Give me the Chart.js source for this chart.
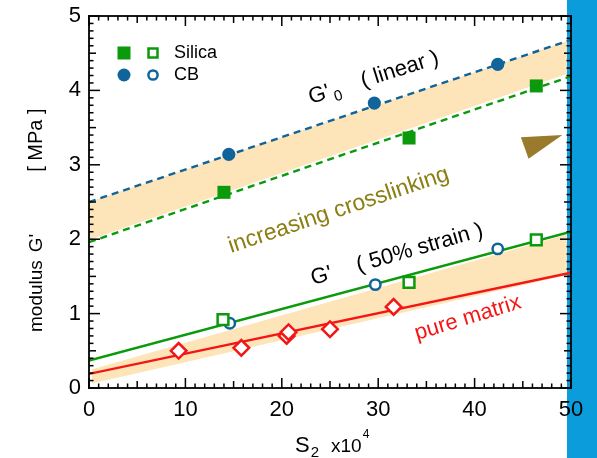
<!DOCTYPE html>
<html>
<head>
<meta charset="utf-8">
<script src="https://cdn.jsdelivr.net/npm/chart.js@4.4.0/dist/chart.umd.min.js"></script>
<style>
  html, body { margin: 0; padding: 0; background: #fff; }
  #wrap { width: 597px; height: 458px; }
</style>
</head>
<body>
<div id="wrap"><canvas id="c" width="597" height="458"></canvas></div>
<script>
// Modulus (MPa) against S2 (x10^4)
const silicaLinearX = [14.0, 33.2, 46.4];
const silicaLinearY = [2.63, 3.36, 4.06];
const cbLinearX = [14.5, 29.6, 42.4];
const cbLinearY = [3.14, 3.83, 4.35];
const silicaStrainX = [13.9, 33.2, 46.4];
const silicaStrainY = [0.92, 1.42, 1.99];
const cbStrainX = [14.6, 29.7, 42.4];
const cbStrainY = [0.87, 1.39, 1.87];
const matrixX = [9.3, 15.8, 20.5, 20.7, 25.0, 31.6];
const matrixY = [0.50, 0.54, 0.70, 0.75, 0.79, 1.09];

// straight fits, given at S2 = 0 and S2 = 50
const fitX = [0, 50];
const cbLinearFit = [2.50, 4.68];
const silicaLinearFit = [1.96, 4.19];
const strainFit = [0.37, 2.10];
const matrixFit = [0.19, 1.55];

// shaded ranges
const upperBandX = [0, 50];
const upperBandTop = [2.50, 4.68];
const upperBandBottom = [1.99, 4.24];
const lowerBandX = [0.3, 50];
const lowerBandTop = [0.25, 2.08];
const lowerBandBottom = [0.06, 1.53];

const xTickValues = [0, 10, 20, 30, 40, 50];
const yTickValues = [0, 1, 2, 3, 4, 5];

const FONT = '"Liberation Sans", Arial, Helvetica, sans-serif';
const GREEN = '#0b9a0b';
const BLUE = '#10649a';
const RED = '#f41515';
const BEIGE = '#fde5b9';
const OLIVE = '#8b7e13';
const BAR = '#0a9cdb';
const ARROW = '#9a7a2c';

const pts = (xs, ys) => xs.map((x, i) => ({ x, y: ys[i] }));

function bandPair(xs, top, bottom) {
  return [
    { data: pts(xs, top), borderWidth: 0, pointRadius: 0, fill: '+1',
      backgroundColor: BEIGE, borderColor: 'transparent', order: 10 },
    { data: pts(xs, bottom), borderWidth: 0, pointRadius: 0, fill: false,
      borderColor: 'transparent', order: 11 }
  ];
}

function fitLine(ys, color, dashed) {
  return { data: pts(fitX, ys), borderColor: color, borderWidth: 2.4,
    borderDash: dashed ? [7, 5] : [], pointRadius: 0, fill: false, order: 5 };
}

function markers(xs, ys, style, radius, color, open) {
  return { data: pts(xs, ys), showLine: false, pointStyle: style, pointRadius: radius,
    pointBackgroundColor: open ? '#fff' : color, pointBorderColor: color,
    pointBorderWidth: open ? 2.5 : 0, borderColor: color, order: 0 };
}

// draws a run of text pieces along a rotated baseline
function drawRun(ctx, x0, y0, angle, parts) {
  ctx.save();
  ctx.translate(x0, y0);
  ctx.rotate(angle * Math.PI / 180);
  ctx.textBaseline = 'alphabetic';
  ctx.textAlign = 'left';
  let cx = 0;
  for (const p of parts) {
    cx += p.gap || 0;
    ctx.font = `${p.size}px ${FONT}`;
    ctx.fillStyle = p.color || '#000';
    ctx.fillText(p.text, cx, p.dy || 0);
    cx += ctx.measureText(p.text).width;
  }
  ctx.restore();
}

// frame round the plot with inward ticks on all four sides, as filled bars
function drawFrame(chart) {
  const ctx = chart.ctx;
  const a = chart.chartArea;
  const sx = chart.scales.x;
  const sy = chart.scales.y;
  const w = 1.5;
  ctx.save();
  ctx.setTransform(1, 0, 0, 1, 0, 0);
  ctx.globalAlpha = 1;
  ctx.globalCompositeOperation = 'source-over';
  ctx.fillStyle = '#000';
  for (let v = 0; v <= 50; v++) {
    const len = v % 10 === 0 ? 10 : (v % 5 === 0 ? 7 : 4.5);
    const px = sx.getPixelForValue(v);
    ctx.fillRect(px - w / 2, a.bottom - len, w, len);
    ctx.fillRect(px - w / 2, a.top, w, len);
  }
  for (let k = 0; k <= 50; k++) {
    const len = k % 10 === 0 ? 11 : (k % 5 === 0 ? 7 : 4.5);
    const py = sy.getPixelForValue(k / 10);
    ctx.fillRect(a.left, py - w / 2, len, w);
    ctx.fillRect(a.right - len, py - w / 2, len, w);
  }
  // border lines
  const b = 1.8;
  ctx.fillRect(a.left - b / 2, a.top - b / 2, a.right - a.left + b, b);
  ctx.fillRect(a.left - b / 2, a.bottom - b / 2, a.right - a.left + b, b);
  ctx.fillRect(a.left - b / 2, a.top - b / 2, b, a.bottom - a.top + b);
  ctx.fillRect(a.right - b / 2, a.top - b / 2, b, a.bottom - a.top + b);
  ctx.restore();
}

function drawNotes(chart) {
  const ctx = chart.ctx;
  const sx = chart.scales.x;
  const sy = chart.scales.y;

  // arrow head marking the direction of crosslinking
  const tri = [[44.8, 3.37], [49.1, 3.40], [45.6, 3.08]];
  ctx.save();
  ctx.fillStyle = ARROW;
  ctx.beginPath();
  tri.forEach(([vx, vy], i) => {
    const px = sx.getPixelForValue(vx), py = sy.getPixelForValue(vy);
    if (i === 0) ctx.moveTo(px, py); else ctx.lineTo(px, py);
  });
  ctx.closePath();
  ctx.fill();
  ctx.restore();

  drawRun(ctx, 311, 104, -17.5, [
    { text: "G'", size: 22 },
    { text: '0', size: 15, dy: 5, gap: 3 },
    { text: '( linear )', size: 22, gap: 22 }
  ]);
  drawRun(ctx, 231, 253, -18.5, [
    { text: 'increasing crosslinking', size: 23, color: OLIVE }
  ]);
  drawRun(ctx, 313, 285, -16, [
    { text: "G'", size: 22 },
    { text: '( 50% strain )', size: 22, gap: 26 }
  ]);
  drawRun(ctx, 417, 340, -17, [
    { text: 'pure matrix', size: 22, color: RED }
  ]);

  // legend
  ctx.save();
  ctx.fillStyle = GREEN;
  ctx.fillRect(124 - 6.5, 53 - 6.5, 13, 13);
  ctx.strokeStyle = GREEN;
  ctx.lineWidth = 2.5;
  ctx.strokeRect(153 - 4.5, 53 - 4.5, 9, 9);
  ctx.fillStyle = BLUE;
  ctx.beginPath(); ctx.arc(124, 75, 6.5, 0, Math.PI * 2); ctx.fill();
  ctx.strokeStyle = BLUE;
  ctx.beginPath(); ctx.arc(153, 75, 4.6, 0, Math.PI * 2); ctx.stroke();
  ctx.fillStyle = '#000';
  ctx.font = `18px ${FONT}`;
  ctx.textBaseline = 'middle';
  ctx.fillText('Silica', 174, 53);
  ctx.fillText('CB', 174, 75);
  ctx.restore();

  // axis titles
  drawRun(ctx, 42, 332, -90, [
    { text: 'modulus', size: 19 },
    { text: "G'", size: 19, gap: 8 },
    { text: '[ MPa ]', size: 20, gap: 62 }
  ]);
  drawRun(ctx, 295, 452, 0, [
    { text: 'S', size: 22 },
    { text: '2', size: 15, dy: 5, gap: 1 },
    { text: 'x10', size: 19, gap: 12 },
    { text: '4', size: 12, dy: -14, gap: 1 }
  ]);
}

const decor = {
  id: 'decor',
  beforeDatasetsDraw(chart) {
    const ctx = chart.ctx;
    ctx.save();
    ctx.fillStyle = BAR;
    ctx.fillRect(567, 0, chart.width - 567, chart.height);
    ctx.restore();
  },
  afterDraw(chart) {
    drawNotes(chart);
    drawFrame(chart);
  }
};

const datasets = [
  markers(silicaLinearX, silicaLinearY, 'rect', 9.2, GREEN, false),
  markers(cbLinearX, cbLinearY, 'circle', 6.6, BLUE, false),
  markers(silicaStrainX, silicaStrainY, 'rect', 7.6, GREEN, true),
  markers(cbStrainX, cbStrainY, 'circle', 5.2, BLUE, true),
  markers(matrixX, matrixY, 'rectRot', 7.8, RED, true),
  fitLine(cbLinearFit, BLUE, true),
  fitLine(silicaLinearFit, GREEN, true),
  fitLine(strainFit, GREEN, false),
  fitLine(matrixFit, RED, false),
  ...bandPair(upperBandX, upperBandTop, upperBandBottom),
  ...bandPair(lowerBandX, lowerBandTop, lowerBandBottom)
];

const tickFont = { family: FONT, size: 22 };

new Chart(document.getElementById('c'), {
  type: 'line',
  data: { datasets },
  options: {
    responsive: false,
    animation: false,
    events: [],
    devicePixelRatio: 1,
    layout: { padding: { top: 16, right: 26, left: 0, bottom: 0 } },
    elements: { line: { tension: 0 } },
    plugins: {
      legend: { display: false },
      tooltip: { enabled: false },
      filler: { drawTime: 'beforeDatasetsDraw' }
    },
    scales: {
      x: {
        type: 'linear', min: 0, max: 50,
        afterBuildTicks: s => { s.ticks = xTickValues.map(v => ({ value: v })); },
        afterFit: s => { s.height = 70; s.paddingLeft = 0; s.paddingRight = 0; },
        ticks: { font: tickFont, color: '#000', padding: 9, maxRotation: 0, autoSkip: false, z: 1 },
        grid: { display: false, drawTicks: false },
        border: { display: false }
      },
      y: {
        type: 'linear', min: 0, max: 5,
        afterBuildTicks: s => { s.ticks = yTickValues.map(v => ({ value: v })); },
        afterFit: s => { s.width = 89; s.paddingTop = 0; s.paddingBottom = 0; },
        ticks: { font: tickFont, color: '#000', padding: 8, autoSkip: false, z: 1 },
        grid: { display: false, drawTicks: false },
        border: { display: false }
      }
    }
  },
  plugins: [decor]
});
</script>
</body>
</html>
